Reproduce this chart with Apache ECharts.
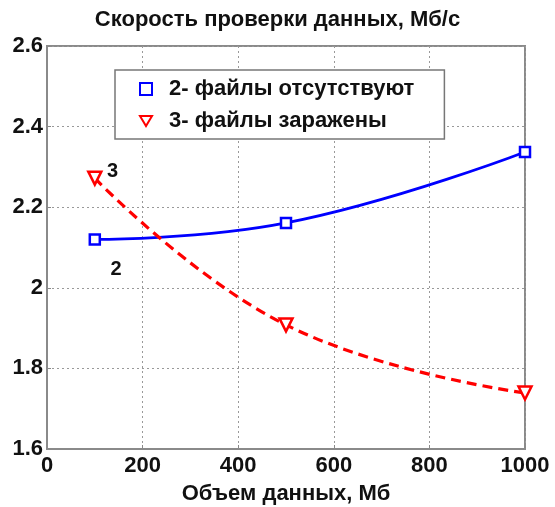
<!DOCTYPE html>
<html><head><meta charset="utf-8">
<script src="https://cdn.jsdelivr.net/npm/echarts@6/dist/echarts.min.js"></script>
<style>html,body{margin:0;padding:0;background:#fff}#c{width:555px;height:507px}</style>
</head><body><div id="c"></div>
<script>
const xValues = [100, 500, 1000];
const series2 = [2.12, 2.161, 2.337];
const series3 = [2.272, 1.908, 1.739];
const xTicks = [0, 200, 400, 600, 800, 1000];
const yTicks = [1.6, 1.8, 2, 2.2, 2.4, 2.6];
const name2 = '2- файлы отсутствуют';
const name3 = '3- файлы заражены';
const curveLabels = ['2', '3'];

const font = 'Liberation Sans, Arial, sans-serif';
const fs = 22;
function pts(ys, lblIdx, lbl, pos) {
  return xValues.map((x, i) => {
    const d = { value: [x, ys[i]] };
    if (i === lblIdx) d.label = { show: true, formatter: lbl, position: pos, color: '#111', fontSize: 20, fontWeight: 'bold', fontFamily: font };
    return d;
  });
}
const chart = echarts.init(document.getElementById('c'), null, { renderer: 'canvas' });
chart.setOption({
  animation: false,
  backgroundColor: '#fff',
  title: { text: 'Скорость проверки данных, Мб/с', left: 'center', top: 4,
    textStyle: { fontFamily: font, fontSize: fs, fontWeight: 'bold', color: '#111' } },
  grid: { left: 47, right: 30, top: 46, bottom: 58, outerBoundsMode: 'none', containLabel: false,
    show: true, borderColor: '#8a8a8a', borderWidth: 2, backgroundColor: 'transparent' },
  legend: {
    left: 115, top: 70, orient: 'vertical',
    padding: [8, 30, 7, 24], itemGap: 10,
    borderColor: '#777', borderWidth: 1.5, backgroundColor: '#fff',
    itemWidth: 12, itemHeight: 12,
    textStyle: { fontFamily: font, fontSize: fs, fontWeight: 'bold', color: '#111', padding: [0, 0, 0, 12] },
    data: [{ name: name2, icon: 'rect' }, { name: name3, icon: 'path://M0,0 L12,0 L6,10 Z' }]
  },
  xAxis: {
    type: 'value', min: 0, max: 1000, interval: 200,
    name: 'Объем данных, Мб', nameLocation: 'middle', nameGap: 34,
    nameTextStyle: { fontFamily: font, fontSize: fs, fontWeight: 'bold', color: '#111' },
    axisLine: { show: true, lineStyle: { color: '#8a8a8a', width: 2 } },
    axisTick: { show: true, inside: true, length: 4, lineStyle: { color: '#8a8a8a' } },
    axisLabel: { fontFamily: font, fontSize: fs, fontWeight: 'bold', color: '#111', margin: 6,
      formatter: v => xTicks.includes(v) ? String(v) : '' },
    splitLine: { show: true, lineStyle: { type: [2, 3], color: '#999', width: 1 } }
  },
  yAxis: {
    type: 'value', min: 1.6, max: 2.6, interval: 0.2,
    axisLine: { show: true, lineStyle: { color: '#8a8a8a', width: 2 } },
    axisTick: { show: true, inside: true, length: 4, lineStyle: { color: '#8a8a8a' } },
    axisLabel: { fontFamily: font, fontSize: fs, fontWeight: 'bold', color: '#111', margin: 4,
      formatter: v => { const t = yTicks.find(y => Math.abs(y - v) < 1e-6); return t === undefined ? '' : String(t); } },
    splitLine: { show: true, lineStyle: { type: [2, 3], color: '#999', width: 1 } }
  },
  series: [
    { name: name2, type: 'line', smooth: 0.45, data: pts(series2, 0, curveLabels[0], [22, 26]),
      symbol: 'rect', symbolSize: 10, showAllSymbol: true,
      lineStyle: { color: '#0000ff', width: 2.8 },
      itemStyle: { color: '#fff', borderColor: '#0000ff', borderWidth: 2.5 } },
    { name: name3, type: 'line', smooth: 0.45, data: pts(series3, 0, curveLabels[1], [20, -9]),
      symbol: 'triangle', symbolRotate: 180, symbolSize: 13, showAllSymbol: true,
      lineStyle: { color: '#ff0000', width: 3.2, type: [10, 6] },
      itemStyle: { color: '#fff', borderColor: '#ff0000', borderWidth: 2.5 } }
  ]
});
</script></body></html>
